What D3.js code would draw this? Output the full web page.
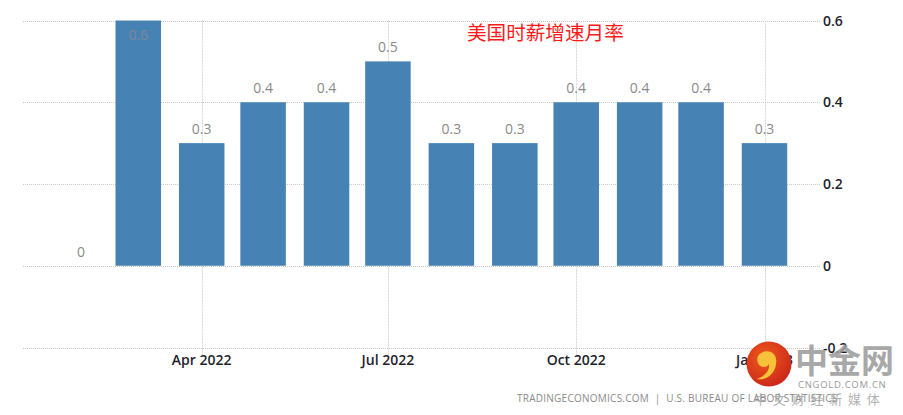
<!DOCTYPE html>
<html><head><meta charset="utf-8">
<script src="https://cdn.jsdelivr.net/npm/d3@7/dist/d3.min.js"></script>
<style>body{margin:0;background:#fff;}svg{display:block;}</style>
</head><body>
<svg id="c" width="903" height="415"></svg>
<script>
const months = ["2022-02","2022-03","2022-04","2022-05","2022-06","2022-07","2022-08","2022-09","2022-10","2022-11","2022-12","2023-01"];
const values = [0, 0.6, 0.3, 0.4, 0.4, 0.5, 0.3, 0.3, 0.4, 0.4, 0.4, 0.3];
const labels = ["0","0.6","0.3","0.4","0.4","0.5","0.3","0.3","0.4","0.4","0.4","0.3"];
const yTicks = [-0.2, 0, 0.2, 0.4, 0.6];
const xTickMonths = ["2022-04","2022-07","2022-10","2023-01"];
const xTickLabels = ["Apr 2022","Jul 2022","Oct 2022","Jan 2023"];
const title = "美国时薪增速月率";
const footer = "TRADINGECONOMICS.COM  |  U.S. BUREAU OF LABOR STATISTICS";

const parse = d3.utcParse("%Y-%m");
const svg = d3.select("#c");
const font = "'Open Sans', 'DejaVu Sans', sans-serif";
const x = d3.scaleUtc().domain([parse("2022-04"), parse("2023-01")]).range([201.7, 764.5]);
const barW = 45.5;
const y = d3.scaleLinear().domain([-0.2, 0.6]).range([347.5, 20.5]);

// horizontal grid
svg.append("g").selectAll("line").data(yTicks).join("line")
  .attr("x1", 23).attr("x2", 820)
  .attr("y1", d => Math.round(y(d)) + 0.5).attr("y2", d => Math.round(y(d)) + 0.5)
  .attr("stroke", "#c8c8c8").attr("stroke-dasharray", "1,1");
// vertical grid
svg.append("g").selectAll("line").data(xTickMonths).join("line")
  .attr("x1", d => Math.round(x(parse(d))) + 0.5).attr("x2", d => Math.round(x(parse(d))) + 0.5)
  .attr("y1", y(0.6)).attr("y2", y(-0.2) + 8)
  .attr("stroke", "#d6d6d6").attr("stroke-dasharray", "2,1");

// bars
svg.append("g").selectAll("rect").data(values).join("rect")
  .attr("x", (d,i) => x(parse(months[i])) - barW/2)
  .attr("width", barW)
  .attr("y", d => y(Math.max(0, d)))
  .attr("height", d => Math.abs(y(d) - y(0)))
  .attr("fill", "#4682b4");

// bar labels
svg.append("g").selectAll("text").data(values).join("text")
  .attr("x", (d,i) => x(parse(months[i])))
  .attr("y", d => d >= 0.6 ? y(d) + 19 : y(d) - 9)
  .attr("text-anchor", "middle")
  .attr("font-family", font).attr("font-size", 14)
  .attr("fill", d => d >= 0.6 ? "#7d8794" : "#8a8a8a")
  .text((d,i) => labels[i]);

// y axis labels
svg.append("g").selectAll("text").data(yTicks).join("text")
  .attr("x", 823).attr("y", d => y(d) + 5)
  .attr("font-family", font).attr("font-size", 14).attr("font-weight", 600)
  .attr("fill", "#1f1f2e")
  .text(d => d === 0 ? "0" : d.toFixed(1));

// x axis labels
svg.append("g").selectAll("text").data(xTickMonths).join("text")
  .attr("x", d => x(parse(d))).attr("y", 365)
  .attr("text-anchor", "middle")
  .attr("font-family", font).attr("font-size", 14).attr("font-weight", 600)
  .attr("fill", "#1f1f2e")
  .text((d,i) => xTickLabels[i]);

// title
svg.append("text").attr("x", 467).attr("y", 40)
  .attr("font-family", "'Noto Sans CJK SC', sans-serif").attr("font-size", 19.6)
  .attr("fill", "#ff1a1a").text(title);

// footer
svg.append("text").attr("x", 517).attr("y", 402)
  .attr("font-family", font).attr("font-size", 10).attr("letter-spacing", 0.25)
  .attr("fill", "#8a8a8a").style("white-space", "pre").text(footer);

// watermark
const defs = svg.append("defs");
const g = defs.append("radialGradient").attr("id", "lg").attr("cx", "40%").attr("cy", "35%").attr("r", "70%");
g.append("stop").attr("offset", "0%").attr("stop-color", "#f05a1a");
g.append("stop").attr("offset", "100%").attr("stop-color", "#c9261a");
svg.append("circle").attr("cx", 769).attr("cy", 364).attr("r", 22.5).attr("fill", "url(#lg)");
svg.append("path")
  .attr("d", "M771,352 c-9,-3 -16,4 -13,11 c2,5 9,5 11,1 c1,7 -5,13 -13,15 c10,2 19,-5 20,-15 c1,-6 -1,-10 -5,-12 z")
  .attr("fill", "#f7c23a");
svg.append("text").attr("x", 795).attr("y", 373)
  .attr("font-family", "'Noto Sans CJK SC', sans-serif").attr("font-size", 33).attr("font-weight", 700)
  .attr("fill", "#9a9a9a").attr("opacity", 0.85).text("中金网");
svg.append("text").attr("x", 798).attr("y", 388)
  .attr("font-family", font).attr("font-size", 9.5).attr("letter-spacing", 0.7)
  .attr("fill", "#9a9a9a").text("CNGOLD.COM.CN");
svg.append("text").attr("x", 754).attr("y", 404)
  .attr("font-family", "'Noto Sans CJK SC', sans-serif").attr("font-size", 13).attr("letter-spacing", 5.8)
  .attr("fill", "#a0a0a0").attr("opacity", 0.8).text("中文财经新媒体");
</script>
</body></html>
